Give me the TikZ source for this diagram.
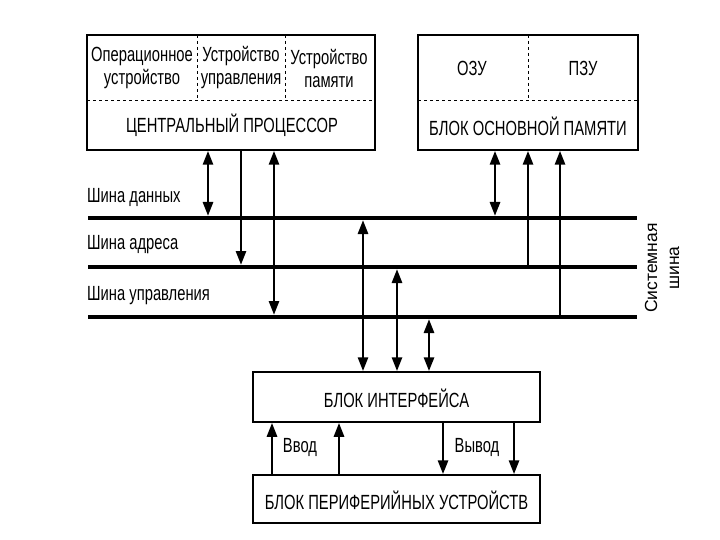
\documentclass[tikz,border=0pt]{standalone}
\usepackage{fontspec}
\setmainfont[FakeStretch=0.72]{Liberation Sans}
\newfontfamily\shirokij{Liberation Sans}
\usetikzlibrary{arrows.meta}

\begin{document}
\begin{tikzpicture}[x=1pt,y=-1pt,
  blok/.style={draw,line width=1.5pt,inner sep=0pt},
  shina/.style={line width=4.5pt},
  strelka/.style={line width=2.8pt,-{Triangle[length=14pt,width=10pt]}},
  dvoj/.style={line width=2.8pt,{Triangle[length=14pt,width=10pt]}-{Triangle[length=14pt,width=10pt]}},
  txt/.style={font=\fontsize{20.5}{23}\selectfont,align=center,inner sep=0pt}]
  \useasboundingbox (0,0) rectangle (720,540);
  % Bloki
  \node[blok,minimum width=288pt,minimum height=115pt] (cpu) at (231,92.5) {};
  \node[blok,minimum width=220pt,minimum height=115pt] (mem) at (528,92.5) {};
  \node[blok,minimum width=287pt,minimum height=50pt] (intf) at (396.5,397) {};
  \node[blok,minimum width=287pt,minimum height=48pt] (per) at (396.5,499) {};
  % Punktirnye razdeliteli
  \draw[dashed] (87,100) -- (375,100);
  \draw[dashed] (197,35) -- (197,100);
  \draw[dashed] (285,35) -- (285,100);
  \draw[dashed] (418,100) -- (638,100);
  \draw[dashed] (528,35) -- (528,100);
  % Teksty v blokah
  \node[txt] (opu) at (142,68) {Операционное\\устройство};
  \node[txt] (uu)  at (241,68) {Устройство\\управления};
  \node[txt] (up)  at (329,68) {Устройство\\памяти};
  \node[txt] (cpt) at (232,125) {ЦЕНТРАЛЬНЫЙ ПРОЦЕССОР};
  \node[txt] (ozu) at (472,68) {ОЗУ};
  \node[txt] (pzu) at (583,68) {ПЗУ};
  \node[txt] (bop) at (528,126) {БЛОК ОСНОВНОЙ ПАМЯТИ};
  \node[txt] (bi)  at (396.5,398) {БЛОК ИНТЕРФЕЙСА};
  \node[txt] (bpu) at (396.5,500) {БЛОК ПЕРИФЕРИЙНЫХ УСТРОЙСТВ};
  % Shiny
  \coordinate (dL) at (88,218);  \coordinate (dR) at (637,218);
  \coordinate (aL) at (88,267);  \coordinate (aR) at (637,267);
  \coordinate (uL) at (88,317);  \coordinate (uR) at (637,317);
  \draw[shina] (dL) -- (dR);
  \draw[shina] (aL) -- (aR);
  \draw[shina] (uL) -- (uR);
  \node[txt,anchor=west] (ld) at (87,197) {Шина данных};
  \node[txt,anchor=west] (la) at (87,245) {Шина адреса};
  \node[txt,anchor=west] (lu) at (87,296) {Шина управления};
  \node[font=\shirokij\fontsize{17.5}{22}\selectfont,align=center,rotate=90] (sys) at (662,268) {Системная\\шина};
  % Processor i shiny
  \coordinate (c1) at (208,216); \coordinate (c2) at (241,265); \coordinate (c3) at (274,315);
  \draw[dvoj] (cpu.south -| c1) -- (c1);
  \draw[strelka] (cpu.south -| c2) -- (c2);
  \draw[dvoj] (cpu.south -| c3) -- (c3);
  % Pamyat i shiny
  \coordinate (m1) at (495,216); \coordinate (m2) at (528,267); \coordinate (m3) at (560,317);
  \draw[dvoj] (mem.south -| m1) -- (m1);
  \draw[strelka] (m2) -- (mem.south -| m2);
  \draw[strelka] (m3) -- (mem.south -| m3);
  % Interfeis i shiny
  \coordinate (i1) at (363,220); \coordinate (i2) at (397,269); \coordinate (i3) at (429,319);
  \draw[dvoj] (intf.north -| i1) -- (i1);
  \draw[dvoj] (intf.north -| i2) -- (i2);
  \draw[dvoj] (intf.north -| i3) -- (i3);
  % Vvod i vyvod
  \coordinate (v1) at (272,0); \coordinate (v2) at (339,0);
  \coordinate (w1) at (443,0); \coordinate (w2) at (514,0);
  \draw[strelka] (per.north -| v1) -- (intf.south -| v1);
  \draw[strelka] (per.north -| v2) -- (intf.south -| v2);
  \draw[strelka] (intf.south -| w1) -- (per.north -| w1);
  \draw[strelka] (intf.south -| w2) -- (per.north -| w2);
  \node[txt] (vvod) at (300,447) {Ввод};
  \node[txt] (vyvod) at (477,447) {Вывод};
\end{tikzpicture}
\end{document}
